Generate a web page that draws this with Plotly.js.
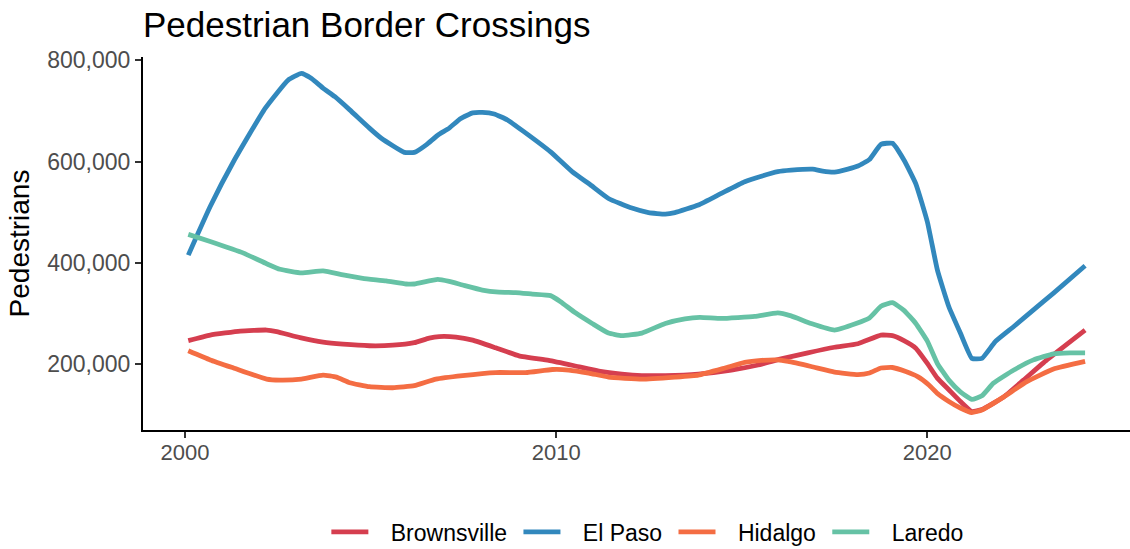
<!DOCTYPE html>
<html>
<head>
<meta charset="utf-8">
<script src="https://cdn.plot.ly/plotly-3.0.1.min.js"></script>
<style>html,body{margin:0;padding:0;background:#fff;}#chart{width:1130px;height:549px;}</style>
</head>
<body>
<div id="chart"></div>
<script>
// Data (smoothed pedestrian crossings)
const brownsvilleX = [2000.09,2000.68,2001.49,2002.2,2002.47,2003.1,2003.72,2004.26,2004.97,2005.6,2006.18,2006.58,2006.85,2007.3,2007.75,2008.37,2009.0,2009.8,2010.52,2011.15,2011.77,2012.31,2012.94,2013.83,2014.72,2015.44,2016.06,2016.78,2017.5,2018.13,2018.75,2019.06,2019.37,2019.69,2020.0,2020.27,2020.58,2020.89,2021.2,2021.47,2022.06,2022.59,2023.22,2024.25];
const brownsvilleY = [246000,257000,265000,267000,264000,252000,243000,239000,236000,237000,242000,251000,254000,253000,247000,232000,216000,207000,196000,186000,180000,177000,177000,180000,188000,198000,210000,222000,233000,240000,257000,256000,246000,231000,201000,172000,149000,126000,106000,110000,135000,168000,208000,267000];

const elPasoX = [2000.09,2000.68,2001.31,2002.16,2002.78,2003.14,2003.41,2003.72,2004.04,2004.44,2004.97,2005.29,2005.91,2006.18,2006.5,2006.81,2007.12,2007.43,2007.75,2008.01,2008.33,2008.69,2009.13,2009.85,2010.43,2010.92,2011.41,2012.04,2012.49,2012.94,2013.2,2013.83,2014.45,2015.08,2015.53,2015.97,2016.33,2016.91,2017.18,2017.5,2017.86,2018.13,2018.44,2018.75,2019.06,2019.37,2019.69,2020.0,2020.27,2020.58,2020.89,2021.2,2021.47,2021.83,2022.33,2022.86,2023.4,2024.25];
const elPasoY = [415000,511000,600000,705000,761000,774000,764000,745000,728000,702000,666000,646000,618000,618000,633000,652000,666000,685000,696000,697000,694000,682000,659000,619000,580000,554000,527000,508000,499000,496000,499000,514000,537000,560000,571000,580000,583000,585000,581000,579000,585000,591000,604000,634000,636000,603000,556000,481000,386000,313000,261000,211000,211000,244000,274000,307000,340000,394000];

const hidalgoX = [2000.09,2000.68,2001.31,2002.2,2002.56,2003.14,2003.72,2004.08,2004.44,2004.97,2005.6,2006.18,2006.76,2007.48,2008.37,2009.18,2009.9,2010.34,2010.88,2011.41,2012.31,2013.2,2013.83,2014.55,2015.08,2015.53,2015.97,2016.25,2016.87,2017.5,2018.13,2018.44,2018.75,2019.06,2019.42,2019.74,2020.05,2020.27,2020.58,2020.89,2021.2,2021.47,2022.06,2022.68,2023.4,2024.25];
const hidalgoY = [226000,208000,192000,170000,168000,170000,178000,174000,163000,155000,153000,157000,170000,177000,183000,183000,189000,188000,182000,174000,170000,174000,178000,192000,203000,207000,208000,205000,195000,184000,179000,182000,192000,193000,185000,175000,158000,142000,126000,113000,104000,109000,135000,165000,190000,205000];

const laredoX = [2000.09,2000.68,2001.58,2002.2,2002.56,2003.14,2003.72,2004.26,2004.79,2005.42,2005.96,2006.18,2006.81,2007.12,2007.48,2008.01,2008.46,2008.91,2009.36,2009.85,2010.12,2010.52,2010.97,2011.41,2011.77,2012.31,2012.94,2013.47,2013.87,2014.45,2015.35,2015.97,2016.33,2016.87,2017.5,2018.08,2018.44,2018.75,2019.06,2019.37,2019.69,2020.0,2020.27,2020.58,2020.89,2021.2,2021.47,2021.78,2022.33,2022.86,2023.4,2023.85,2024.25];
const laredoY = [456000,442000,419000,398000,387000,380000,384000,376000,369000,364000,358000,358000,367000,363000,356000,346000,342000,341000,338000,335000,323000,301000,280000,261000,256000,261000,280000,289000,292000,290000,294000,301000,295000,280000,267000,280000,291000,314000,321000,306000,280000,245000,201000,168000,145000,130000,137000,162000,188000,208000,220000,222000,222000];

const seriesNames = ["Brownsville", "El Paso", "Hidalgo", "Laredo"];
const seriesColors = ["#D53E4F", "#3288BD", "#F46D43", "#66C2A5"];
const xTicks = [2000, 2010, 2020];
const yTicks = [200000, 400000, 600000, 800000];
const yTickText = ["200,000", "400,000", "600,000", "800,000"];

const xs = [brownsvilleX, elPasoX, hidalgoX, laredoX];
const ys = [brownsvilleY, elPasoY, hidalgoY, laredoY];

// spacing in the legend (non-breaking spaces around the names)
const LEAD = "\u00A0\u00A0\u2009";
const TRAIL = "\u00A0";
const traces = seriesNames.map((n, i) => ({
  type: "scatter",
  mode: "lines",
  name: LEAD + n + (i < seriesNames.length - 1 ? TRAIL : ""),
  x: xs[i],
  y: ys[i],
  line: { color: seriesColors[i], width: 4.8, shape: "spline", smoothing: 0.4 },
  hoverinfo: "x+y+name"
}));

const FONT = "Liberation Sans, Arial, sans-serif";

const layout = {
  width: 1130,
  height: 549,
  paper_bgcolor: "#ffffff",
  plot_bgcolor: "#ffffff",
  margin: { l: 143, r: 0, t: 57, b: 119, pad: 0 },
  font: { family: FONT, color: "#000000" },
  title: {
    text: "Pedestrian Border Crossings",
    font: { family: FONT, size: 35, color: "#000000" },
    x: 143 / 1130,
    xanchor: "left",
    xref: "container",
    y: 1 - 25 / 549,
    yanchor: "middle",
    yref: "container"
  },
  xaxis: {
    range: [1998.87, 2025.46],
    tickmode: "array",
    tickvals: xTicks,
    ticktext: xTicks.map(String),
    showgrid: false,
    zeroline: false,
    showline: true,
    linecolor: "#000000",
    linewidth: 2,
    ticks: "outside",
    ticklen: 6,
    tickwidth: 2,
    tickcolor: "#333333",
    ticklabelstandoff: -4,
    tickfont: { family: FONT, size: 22, color: "#4D4D4D" }
  },
  yaxis: {
    range: [69500, 806500],
    tickmode: "array",
    tickvals: yTicks,
    ticktext: yTickText,
    showgrid: false,
    zeroline: false,
    showline: true,
    linecolor: "#000000",
    linewidth: 2,
    ticks: "outside",
    ticklen: 6,
    tickwidth: 2,
    tickcolor: "#333333",
    tickfont: { family: FONT, size: 23, color: "#4D4D4D" },
    title: { text: "Pedestrians", font: { family: FONT, size: 28, color: "#000000" }, standoff: 9 }
  },
  showlegend: true,
  legend: {
    orientation: "h",
    xref: "paper",
    x: 0.511,
    xanchor: "center",
    yref: "container",
    y: 1 - 532 / 549,
    yanchor: "middle",
    font: { family: FONT, size: 23, color: "#000000" },
    bgcolor: "rgba(0,0,0,0)",
    itemwidth: 37
  }
};

Plotly.newPlot("chart", traces, layout, { displayModeBar: false, staticPlot: true });
</script>
</body>
</html>
